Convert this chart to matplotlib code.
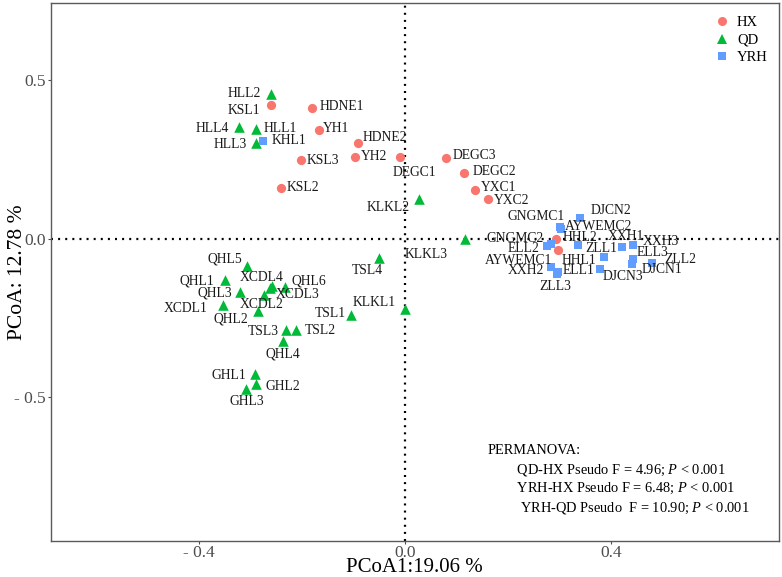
import matplotlib
matplotlib.use("Agg")
import matplotlib.pyplot as plt
from matplotlib.lines import Line2D

plt.rcParams['font.family'] = ['Liberation Serif', 'DejaVu Serif']
plt.rcParams['mathtext.fontset'] = 'custom'
plt.rcParams['mathtext.rm'] = 'Liberation Serif'
plt.rcParams['mathtext.it'] = 'Liberation Serif:italic'

# ---------------- data ----------------
hx_names = ["KSL1", "HDNE1", "YH1", "HDNE2", "KSL3", "YH2", "DEGC1", "KSL2",
            "DEGC3", "DEGC2", "YXC1", "YXC2", "HHL2", "AYWEMC1"]
hx_x = [-0.260, -0.180, -0.166, -0.092, -0.202, -0.097, -0.010, -0.240,
        0.079, 0.115, 0.135, 0.161, 0.292, 0.297]
hx_y = [0.421, 0.414, 0.342, 0.303, 0.248, 0.259, 0.257, 0.160,
        0.256, 0.208, 0.152, 0.124, -0.003, -0.037]

qd_names = ["HLL2", "HLL4", "HLL1", "HLL3", "KLKL2", "KLKL3", "TSL4", "QHL5",
            "QHL1", "XCDL4", "XCDL3", "QHL6", "QHL3", "XCDL2", "XCDL1", "QHL2",
            "TSL3", "TSL2", "QHL4", "TSL1", "KLKL1", "GHL1", "GHL2", "GHL3"]
qd_x = [-0.260, -0.321, -0.288, -0.288, 0.028, 0.116, -0.050, -0.306,
        -0.348, -0.258, -0.262, -0.233, -0.320, -0.274, -0.353, -0.284,
        -0.230, -0.211, -0.237, -0.104, 0.000, -0.290, -0.288, -0.309]
qd_y = [0.458, 0.353, 0.347, 0.303, 0.126, -0.003, -0.062, -0.088,
        -0.132, -0.151, -0.156, -0.153, -0.169, -0.180, -0.209, -0.230,
        -0.288, -0.288, -0.325, -0.243, -0.222, -0.430, -0.459, -0.476]

yrh_names = ["KHL1", "DJCN2", "GNGMC1", "AYWEMC2", "GNGMC2", "ELL2", "ZLL1",
             "HHL1", "XXH2", "ZLL3", "ELL1", "DJCN3", "XXH1", "XXH3", "ELL3",
             "DJCN1", "ZLL2"]
yrh_x = [-0.276, 0.340, 0.300, 0.303, 0.282, 0.275, 0.335,
         0.385, 0.282, 0.294, 0.297, 0.377, 0.420, 0.441, 0.441,
         0.439, 0.478]
yrh_y = [0.310, 0.066, 0.035, 0.030, -0.016, -0.025, -0.022,
         -0.057, -0.089, -0.111, -0.106, -0.095, -0.028, -0.022, -0.066,
         -0.082, -0.079]

x_ticks = [-0.4, 0.0, 0.4]
x_ticklabels = ["- 0.4", "0.0", "0.4"]
y_ticks = [-0.5, 0.0, 0.5]
y_ticklabels = ["- 0.5", "0.0", "0.5"]

x_title = "PCoA1:19.06 %"
y_title = "PCoA: 12.78 %"

stats_lines = ["PERMANOVA:",
               "        QD-HX Pseudo F = 4.96; $P$ < 0.001",
               "        YRH-HX Pseudo F = 6.48; $P$ < 0.001",
               "         YRH-QD Pseudo  F = 10.90; $P$ < 0.001"]

# ---------------- layout (label offsets in pixels, repel-like) ----------------
label_offsets = {
    "KSL1": (-27, -5), "HDNE1": (30, 1), "YH1": (17, 2), "HDNE2": (27, 5),
    "KSL3": (22, 0), "YH2": (19, 0), "DEGC1": (15, -15), "KSL2": (22, 0),
    "DEGC3": (29, 2), "DEGC2": (30, 1), "YXC1": (24, 3), "YXC2": (24, -1),
    "HHL2": (24, 2), "AYWEMC1": (-40, -10),
    "HLL2": (-27, 0), "HLL4": (-27, -2), "HLL1": (24, 0), "HLL3": (-26, -2),
    "KLKL2": (-31, -9), "KLKL3": (-39, -15), "TSL4": (-12, -12),
    "QHL5": (-22, 7), "QHL1": (-29, -1), "XCDL4": (-10, 9), "XCDL3": (28, -7),
    "QHL6": (24, 6), "QHL3": (-25, -1), "XCDL2": (-2, -9), "XCDL1": (-37, -4),
    "QHL2": (-28, -8), "TSL3": (-23, -2), "TSL2": (24, -1), "QHL4": (0, -13),
    "TSL1": (-21, 2), "KLKL1": (-31, 6), "GHL1": (-26, -1), "GHL2": (26, -3),
    "GHL3": (1, -13),
    "KHL1": (26, 0), "DJCN2": (31, 7), "GNGMC1": (-24, 11), "AYWEMC2": (37, 3),
    "GNGMC2": (-35, 5), "ELL2": (-23, -2), "ZLL1": (23, -3), "HHL1": (-25, -4),
    "XXH2": (-25, -4), "ZLL3": (-1, -13), "ELL1": (20, 2), "DJCN3": (23, -8),
    "XXH1": (4, 11), "XXH3": (28, 4), "ELL3": (20, 7), "DJCN1": (30, -5),
    "ZLL2": (29, 4),
}

c_hx, c_qd, c_yrh = "#F8766D", "#00BA38", "#619CFF"

W, H = 782, 577
L, R, T, B = 50.7, 779.0, 2.7, 540.7
fig = plt.figure(figsize=(W / 100, H / 100), dpi=100)
ax = fig.add_axes([L / W, 1 - B / H, (R - L) / W, (B - T) / H])
ax.set_xlim(-0.6866, 0.7248)
ax.set_ylim(-0.956, 0.746)

dot = dict(color='black', linewidth=1.6, linestyle=(0, (0.9, 2.3)), zorder=1)
ax.axhline(0, **dot)
ax.axvline(0, **dot)

groups = [
    ("HX", hx_names, hx_x, hx_y, 'o', c_hx, 44),
    ("QD", qd_names, qd_x, qd_y, '^', c_qd, 58),
    ("YRH", yrh_names, yrh_x, yrh_y, 's', c_yrh, 40),
]
for gname, names, xs, ys, mk, col, sz in groups:
    ax.scatter(xs, ys, marker=mk, s=sz, color=col, linewidths=0, zorder=3)
    for n, x, y in zip(names, xs, ys):
        dx, dy = label_offsets[n]
        ax.annotate(n, (x, y), xytext=(dx, dy), textcoords='offset pixels',
                    ha='center', va='center', fontsize=9.8, color='#1a1a1a',
                    zorder=4)

# legend
handles = [Line2D([], [], marker='o', linestyle='none', color=c_hx, markersize=6.5, markeredgewidth=0),
           Line2D([], [], marker='^', linestyle='none', color=c_qd, markersize=7.5, markeredgewidth=0),
           Line2D([], [], marker='s', linestyle='none', color=c_yrh, markersize=6.0, markeredgewidth=0)]
leg = ax.legend(handles, ["HX", "QD", "YRH"], loc='upper left',
                bbox_to_anchor=(715 / W, 1 - 16 / H), bbox_transform=fig.transFigure,
                frameon=False, fontsize=10.5, handlelength=1.0, handletextpad=0.5,
                labelspacing=0.3, borderpad=0, borderaxespad=0)

# PERMANOVA text
y0 = 450.7
for i, line in enumerate(stats_lines):
    ax.text(488 / W, 1 - (y0 + i * 19) / H, line, transform=fig.transFigure,
            ha='left', va='center', fontsize=10.4, color='black')

ax.set_xticks(x_ticks)
ax.set_xticklabels(x_ticklabels)
ax.set_yticks(y_ticks)
ax.set_yticklabels(y_ticklabels)
ax.tick_params(axis='both', which='major', labelsize=12.5, labelcolor='#4d4d4d',
               color='#4d4d4d', length=2.5, width=0.8, pad=0.8)
for sp in ax.spines.values():
    sp.set_color('#5a5a5a')
    sp.set_linewidth(1.0)

ax.set_xlabel(x_title, fontsize=15, va='center')
ax.set_ylabel(y_title, fontsize=15.5, va='center')
ax.xaxis.set_label_coords(0.5, (B - 567) / (B - T))
ax.yaxis.set_label_coords((18 - L) / (R - L), 0.5)

fig.savefig("out.png", dpi=100)
